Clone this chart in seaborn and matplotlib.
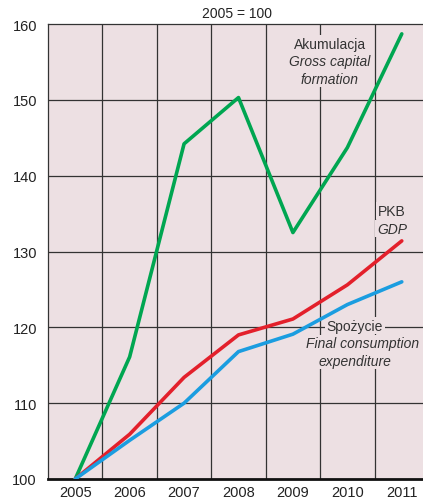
import matplotlib
matplotlib.use("Agg")
import matplotlib.pyplot as plt
import seaborn as sns
import pandas as pd

years = [2005, 2006, 2007, 2008, 2009, 2010, 2011]
akumulacja = [100, 116.1, 144.2, 150.3, 132.5, 143.7, 158.7]
pkb = [100, 105.9, 113.4, 119.0, 121.1, 125.6, 131.4]
spozycie = [100, 105.1, 110.0, 116.8, 119.1, 123.0, 126.0]

series_names = ["Akumulacja", "PKB", "Spożycie"]
colors = ["#00a651", "#e3202b", "#1b9de0"]
y_ticks = [100, 110, 120, 130, 140, 150, 160]

df = pd.DataFrame({
    "rok": years * 3,
    "wartosc": akumulacja + pkb + spozycie,
    "seria": [s for s in series_names for _ in years],
})

sns.set_style("white")
plt.rcParams["font.family"] = ["Liberation Sans Narrow", "Liberation Sans", "DejaVu Sans"]

bg = "#ede0e3"
fig = plt.figure(figsize=(4.23, 5.02), dpi=100)
ax = fig.add_axes([48 / 423, 22 / 502, 1 - 48 / 423, 455 / 502])
ax.set_facecolor(bg)

sns.lineplot(data=df, x="rok", y="wartosc", hue="seria", palette=colors,
             linewidth=2.6, legend=False, ax=ax, zorder=3)

ax.set_xlim(2004.5, 2011.39)
ax.set_ylim(100, 160)
ax.set_xticks(years)
ax.set_xticklabels([str(y) for y in years])
ax.set_yticks(y_ticks)
ax.tick_params(axis="both", length=0, labelsize=10.5, colors="#222222")
ax.tick_params(axis="x", pad=4)
ax.tick_params(axis="y", pad=8)
ax.set_xlabel("")
ax.set_ylabel("")

# siatka: poziome na tickach, pionowe miedzy latami
for y in y_ticks[1:-1]:
    ax.axhline(y, color="#333333", lw=0.9, zorder=1)
for x in years[:-1]:
    ax.axvline(x + 0.5, color="#333333", lw=0.9, zorder=1)

ax.spines["right"].set_visible(False)
ax.spines["top"].set_color("#333333")
ax.spines["top"].set_linewidth(0.9)
ax.spines["left"].set_color("#333333")
ax.spines["left"].set_linewidth(0.9)
ax.spines["bottom"].set_color("#111111")
ax.spines["bottom"].set_linewidth(2.0)

box = dict(facecolor=bg, edgecolor="none", pad=1.2)
fs = 10
tc = "#333333"


def label(x, y, s, italic=False):
    ax.text(x, y, s, ha="center", va="center", fontsize=fs, color=tc,
            style="italic" if italic else "normal", bbox=box, zorder=2)


label(2009.68, 157.4, "Akumulacja")
label(2009.68, 155.1, "Gross capital", italic=True)
label(2009.68, 152.8, "formation", italic=True)
label(2010.82, 135.4, "PKB")
label(2010.82, 133.0, "GDP", italic=True)
label(2010.14, 120.2, "Spożycie")
label(2010.28, 117.9, "Final consumption", italic=True)
label(2010.14, 115.6, "expenditure", italic=True)

fig.text(237 / 423, 1 - 14 / 502, "2005 = 100", ha="center", va="center",
         fontsize=fs, color="#222222")

fig.savefig("out.png", dpi=100, facecolor="white")
